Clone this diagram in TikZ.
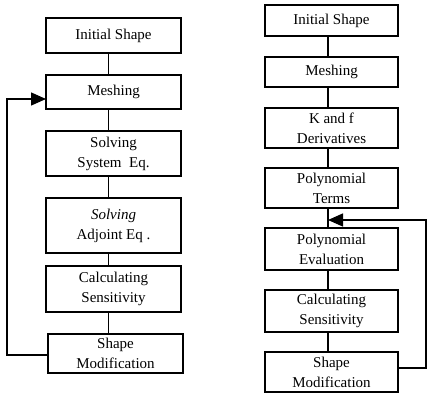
\documentclass[tikz,border=0pt]{standalone}
\usepackage{fontspec}
\setmainfont{Liberation Serif}
\usetikzlibrary{arrows.meta}
\begin{document}
\begin{tikzpicture}[x=1pt,y=-1pt,
  box/.style={draw,line width=1.4pt,rectangle,align=center,inner sep=0pt,
    font=\fontsize{15}{20}\selectfont},
  lbox/.style={box,minimum width=135pt},
  rbox/.style={box,minimum width=133pt},
  conn/.style={line width=1.4pt},
  fb/.style={line width=1.4pt,-{Triangle[length=15pt,width=13pt]}}]
\useasboundingbox (0,0) rectangle (427,394);
% left column
\node[lbox,minimum height=35pt] (L1) at (113.5,35.5) {Initial Shape};
\node[lbox,minimum height=34pt] (L2) at (113.5,92) {Meshing};
\node[lbox,minimum height=45pt] (L3) at (113.5,153.5) {Solving\\System~~Eq.};
\node[lbox,minimum height=55pt] (L4) at (113.5,225.5) {\textit{Solving}\\Adjoint Eq .};
\node[lbox,minimum height=46pt] (L5) at (113.5,289) {Calculating\\Sensitivity};
\node[lbox,minimum height=39pt] (L6) at (115.5,353.5) {Shape\\Modification};
\draw[conn] ([xshift=-5pt]L1.south) -- ([xshift=-5pt]L2.north);
\draw[conn] ([xshift=-5pt]L2.south) -- ([xshift=-5pt]L3.north);
\draw[conn] ([xshift=-5pt]L3.south) -- ([xshift=-5pt]L4.north);
\draw[conn] ([xshift=-5pt]L4.south) -- ([xshift=-5pt]L5.north);
\draw[conn] ([xshift=-5pt]L5.south) -- ([xshift=-7pt]L6.north);
\coordinate (lin) at (46,99);
\draw[fb] ([yshift=-1.5pt]L6.west) -| (7,99) -- (lin);
% right column
\node[rbox,minimum height=31pt] (R1) at (331.5,20.5) {Initial Shape};
\node[rbox,minimum height=30pt] (R2) at (331.5,72) {Meshing};
\node[rbox,minimum height=40pt] (R3) at (331.5,128) {K and f\\Derivatives};
\node[rbox,minimum height=40pt] (R4) at (331.5,188) {Polynomial\\Terms};
\node[rbox,minimum height=42pt] (R5) at (331.5,249) {Polynomial\\Evaluation};
\node[rbox,minimum height=42pt] (R6) at (331.5,311) {Calculating\\Sensitivity};
\node[rbox,minimum height=40pt] (R7) at (331.5,372) {Shape\\Modification};
\draw[conn] ([xshift=-3.5pt]R1.south) -- ([xshift=-3.5pt]R2.north);
\draw[conn] ([xshift=-3.5pt]R2.south) -- ([xshift=-3.5pt]R3.north);
\draw[conn] ([xshift=-3.5pt]R3.south) -- ([xshift=-3.5pt]R4.north);
\draw[conn] ([xshift=-3.5pt]R4.south) -- ([xshift=-3.5pt]R5.north);
\draw[conn] ([xshift=-3.5pt]R5.south) -- ([xshift=-3.5pt]R6.north);
\draw[conn] ([xshift=-3.5pt]R6.south) -- ([xshift=-3.5pt]R7.north);
\coordinate (rin) at (328,220);
\draw[fb] ([yshift=4pt]R7.east) -| (426,220) -- (rin);
\end{tikzpicture}
\end{document}
